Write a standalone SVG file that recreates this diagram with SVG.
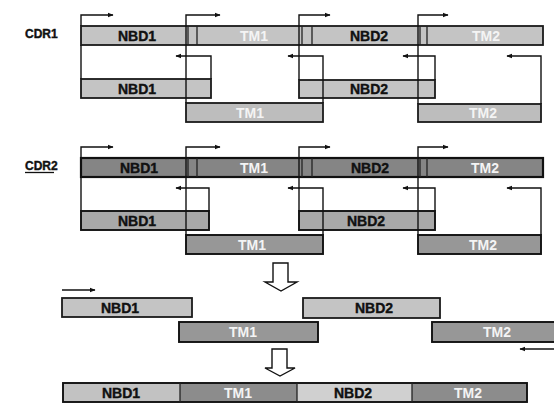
<svg xmlns="http://www.w3.org/2000/svg" width="554" height="403" viewBox="0 0 554 403">
<style>
text{font-family:"Liberation Sans",Arial,sans-serif;font-weight:bold;font-size:14px;text-anchor:middle}
.lbl{font-size:12px;text-anchor:start}
.bk{fill:#111;stroke:#111;stroke-width:0.4}
.wh{fill:#f4f4f4}
.l1{fill:#c4c4c4;stroke:#1a1a1a;stroke-width:1.8}
.l2{fill:#bdbdbd;stroke:#1a1a1a;stroke-width:1.8}
.d1{fill:#858585;stroke:#111;stroke-width:2.2}
.m1{fill:#a8a8a8;stroke:#111;stroke-width:1.9}
.m2{fill:#979797;stroke:#111;stroke-width:1.9}
.dv{stroke:#222;stroke-width:1.3}
.cn{fill:none;stroke:#111;stroke-width:1.4}
.ho{fill:#fff;stroke:#111;stroke-width:1.4}
</style>
<defs>
<marker id="ah" viewBox="0 0 10 10" refX="9" refY="5" markerWidth="6" markerHeight="6" orient="auto" markerUnits="userSpaceOnUse">
<path d="M0,1 L10,5 L0,9 z" fill="#111"/>
</marker>
</defs>

<text class="lbl bk" x="25" y="38">CDR1</text>
<text class="lbl bk" x="25" y="170">CDR2</text>
<line x1="25" y1="172.5" x2="54" y2="172.5" stroke="#111" stroke-width="1.3"/>

<!-- CDR1 top -->
<g id="cdr1-top">
<rect class="l1" x="81" y="26" width="462" height="19"/>
<line class="dv" x1="188" y1="26" x2="188" y2="45"/>
<line class="dv" x1="197" y1="26" x2="197" y2="45"/>
<line class="dv" x1="302" y1="26" x2="302" y2="45"/>
<line class="dv" x1="312" y1="26" x2="312" y2="45"/>
<line class="dv" x1="420" y1="26" x2="420" y2="45"/>
<line class="dv" x1="427" y1="26" x2="427" y2="45"/>
<text class="bk" x="137" y="40.5">NBD1</text>
<text class="wh" x="254" y="40.5">TM1</text>
<text class="bk" x="369" y="40.5">NBD2</text>
<text class="wh" x="486" y="40.5">TM2</text>
</g>
<g id="cdr1-nbd1"><rect class="l1" x="81" y="79" width="130" height="19"/><text class="bk" x="137" y="93.5">NBD1</text></g>
<g id="cdr1-tm1"><rect class="l2" x="186" y="103" width="137" height="19"/><text class="wh" x="250" y="117.5">TM1</text></g>
<g id="cdr1-nbd2"><rect class="l1" x="299" y="80" width="136" height="18"/><text class="bk" x="369" y="94">NBD2</text></g>
<g id="cdr1-tm2"><rect class="l2" x="418" y="104" width="123" height="18"/><text class="wh" x="483" y="118">TM2</text></g>

<!-- CDR2 top -->
<g id="cdr2-top">
<rect class="d1" x="81" y="158" width="462" height="19"/>
<line class="dv" x1="188" y1="158" x2="188" y2="177"/>
<line class="dv" x1="197" y1="158" x2="197" y2="177"/>
<line class="dv" x1="302" y1="158" x2="302" y2="177"/>
<line class="dv" x1="312" y1="158" x2="312" y2="177"/>
<line class="dv" x1="420" y1="158" x2="420" y2="177"/>
<line class="dv" x1="427" y1="158" x2="427" y2="177"/>
<text class="bk" x="139" y="172.5">NBD1</text>
<text class="wh" x="254" y="172.5">TM1</text>
<text class="bk" x="370" y="172.5">NBD2</text>
<text class="wh" x="485" y="172.5">TM2</text>
</g>
<g id="cdr2-nbd1"><rect class="m1" x="81" y="211" width="128" height="19"/><text class="bk" x="137" y="225.5">NBD1</text></g>
<g id="cdr2-tm1"><rect class="m2" x="186" y="235" width="137" height="19"/><text class="wh" x="252" y="249.5">TM1</text></g>
<g id="cdr2-nbd2"><rect class="m1" x="299" y="211" width="136" height="19"/><text class="bk" x="366" y="225.5">NBD2</text></g>
<g id="cdr2-tm2"><rect class="m2" x="418" y="235" width="123" height="19"/><text class="wh" x="483" y="249.5">TM2</text></g>

<!-- intermediate -->
<g id="mid-nbd1"><rect class="l1" x="62" y="298" width="130" height="19"/><text class="bk" x="120" y="312.5">NBD1</text></g>
<g id="mid-tm1"><rect class="m2" x="179" y="322" width="139" height="20"/><text class="wh" x="243" y="337">TM1</text></g>
<g id="mid-nbd2"><rect class="l1" x="303" y="298" width="137" height="20"/><text class="bk" x="374" y="313">NBD2</text></g>
<g id="mid-tm2"><rect class="m2" x="432" y="322" width="130" height="20"/><text class="wh" x="497" y="337">TM2</text></g>

<!-- final -->
<g id="final">
<rect x="63" y="383" width="117" height="19" fill="#c2c2c2"/>
<rect x="180" y="383" width="117" height="19" fill="#8c8c8c"/>
<rect x="297" y="383" width="115" height="19" fill="#d0d0d0"/>
<rect x="412" y="383" width="115" height="19" fill="#8c8c8c"/>
<rect x="63" y="383" width="464" height="19" fill="none" stroke="#111" stroke-width="1.9"/>
<line class="dv" x1="180" y1="383" x2="180" y2="402"/>
<line class="dv" x1="297" y1="383" x2="297" y2="402"/>
<line class="dv" x1="412" y1="383" x2="412" y2="402"/>
<text class="bk" x="121" y="397.5">NBD1</text>
<text class="wh" x="238" y="397.5">TM1</text>
<text class="bk" x="353" y="397.5">NBD2</text>
<text class="wh" x="468" y="397.5">TM2</text>
</g>

<g id="connectors">
<!-- CDR1 -->
<path class="cn" d="M81,26 V15 H113" marker-end="url(#ah)"/>
<path class="cn" d="M186,103 V15 H220" marker-end="url(#ah)"/>
<path class="cn" d="M299,80 V15 H330" marker-end="url(#ah)"/>
<path class="cn" d="M418,104 V15 H448" marker-end="url(#ah)"/>
<path class="cn" d="M81,45 V79"/>
<path class="cn" d="M211,79 V56 H176" marker-end="url(#ah)"/>
<path class="cn" d="M323,103 V56 H288" marker-end="url(#ah)"/>
<path class="cn" d="M435,80 V56 H403" marker-end="url(#ah)"/>
<path class="cn" d="M541,104 V56 H507" marker-end="url(#ah)"/>
<!-- CDR2 -->
<path class="cn" d="M81,158 V147 H113" marker-end="url(#ah)"/>
<path class="cn" d="M186,235 V147 H220" marker-end="url(#ah)"/>
<path class="cn" d="M299,211 V147 H330" marker-end="url(#ah)"/>
<path class="cn" d="M418,235 V147 H448" marker-end="url(#ah)"/>
<path class="cn" d="M81,177 V211"/>
<path class="cn" d="M209,211 V188 H176" marker-end="url(#ah)"/>
<path class="cn" d="M323,235 V188 H288" marker-end="url(#ah)"/>
<path class="cn" d="M435,211 V188 H403" marker-end="url(#ah)"/>
<path class="cn" d="M541,235 V188 H507" marker-end="url(#ah)"/>
<!-- lower -->
<path class="cn" d="M62,290 H95" marker-end="url(#ah)"/>
<path class="cn" d="M554,349 H520" marker-end="url(#ah)"/>
<polygon class="ho" points="273,263 288,263 288,282 297,282 281,291 265,282 273,282"/>
<polygon class="ho" points="272,349 287,349 287,368 295,368 280,376 265,368 272,368"/>
</g>
</svg>
